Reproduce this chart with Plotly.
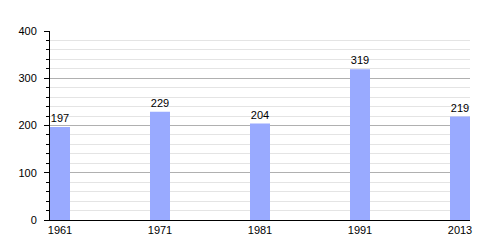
import plotly.graph_objects as go

years = ["1961", "1971", "1981", "1991", "2013"]
values = [197, 229, 204, 319, 219]

pos = list(range(len(years)))

fig = go.Figure()
fig.add_trace(go.Bar(
    x=pos, y=values, width=0.2,
    marker=dict(color="#99aaff", line=dict(width=0)),
    text=[str(v) for v in values], textposition="outside",
    textfont=dict(family="Liberation Sans, Arial", size=11, color="black"),
    cliponaxis=False,
))
fig.update_layout(
    width=500, height=250,
    margin=dict(l=50, r=30, t=31, b=30),
    plot_bgcolor="white", paper_bgcolor="white",
    showlegend=False,
    font=dict(family="Liberation Sans, Arial", size=11, color="black"),
    xaxis=dict(
        range=[-0.1, 4.1], tickvals=pos, ticktext=years,
        showgrid=False, showline=True, linecolor="black", linewidth=1,
        ticks="", zeroline=False, fixedrange=True,
    ),
    yaxis=dict(
        range=[0, 400], tickvals=[0, 100, 200, 300, 400],
        showgrid=True, gridcolor="#b0b0b0", gridwidth=1,
        showline=True, linecolor="black", linewidth=1,
        ticks="outside", ticklen=5, tickcolor="black",
        ticklabelstandoff=5,
        zeroline=False,
        minor=dict(dtick=20, showgrid=True, gridcolor="#e4e4e4", gridwidth=1,
                   ticks="outside", ticklen=3, tickcolor="black"),
    ),
)
fig.write_html("out.html")
